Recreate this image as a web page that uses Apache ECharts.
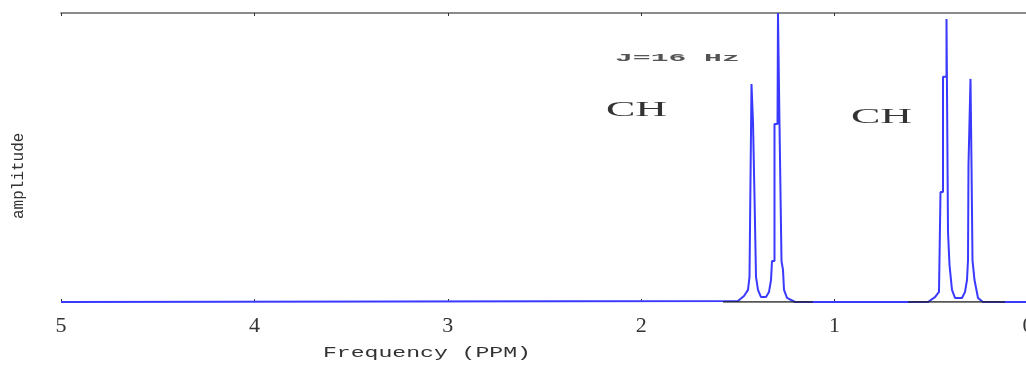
<!DOCTYPE html>
<html>
<head>
<meta charset="utf-8">
<script src="https://cdn.jsdelivr.net/npm/echarts@6/dist/echarts.min.js"></script>
<style>html,body{margin:0;padding:0;background:#fff}#c{width:1026px;height:366px}</style>
</head>
<body>
<div id="c"></div>
<script>
// Spectrum (ppm, amplitude)
const spectrumPpm = [5.0,
  1.4995, 1.4685, 1.4478, 1.4400, 1.4323, 1.4297, 1.4219, 1.4219, 1.4142, 1.4142, 1.4064, 1.4064, 1.3961, 1.3806, 1.3547, 1.3392, 1.3288, 1.3237, 1.3108, 1.3108, 1.2952, 1.2927, 1.2875, 1.2849, 1.2746, 1.2746, 1.2668, 1.2616, 1.2461, 1.2047,
  0.5171, 0.4809, 0.4602, 0.4524, 0.4524, 0.4395, 0.4395, 0.4214, 0.4214, 0.4136, 0.4136, 0.4059, 0.4059, 0.3981, 0.3930, 0.3775, 0.3413, 0.3257, 0.3154, 0.3102, 0.3077, 0.2999, 0.2973, 0.2921, 0.2921, 0.2870, 0.2870, 0.2792, 0.2766, 0.2689, 0.2585, 0.2327,
  0.0];
const spectrumAmp = [0,
  0.0035, 0.021, 0.042, 0.087, 0.087, 0.754, 0.754, 0.623, 0.623, 0.367, 0.367, 0.087, 0.042, 0.017, 0.017, 0.035, 0.076, 0.142, 0.142, 0.616, 0.616, 1.0, 1.0, 0.616, 0.616, 0.142, 0.111, 0.042, 0.014, 0,
  0, 0.017, 0.035, 0.035, 0.381, 0.381, 0.779, 0.779, 0.979, 0.979, 0.242, 0.242, 0.128, 0.128, 0.042, 0.014, 0.014, 0.035, 0.076, 0.145, 0.474, 0.474, 0.772, 0.772, 0.474, 0.474, 0.145, 0.145, 0.076, 0.076, 0.014, 0,
  0];
// Dark baseline segments under the multiplets
const baselinePpm = [1.577, 1.112, null, 0.620, 0.119];
const baselineAmp = [0, 0, null, 0, 0];
// Axis ticks
const xTicks = [5, 4, 3, 2, 1, 0];
// Annotations
const annotations = ['J=16 Hz', 'CH', 'CH'];
const xTitle = 'Frequency (PPM)';
const yTitle = 'amplitude';

const spectrum = spectrumPpm.map((p, i) => [p, spectrumAmp[i]]);
const baseline = baselinePpm.map((p, i) => p === null ? '-' : [p, baselineAmp[i]]);

const chart = echarts.init(document.getElementById('c'), null, {renderer: 'canvas'});
const tickStyle = {show: true, inside: true, length: 3, lineStyle: {color: '#333', width: 1}};
chart.setOption({
  animation: false,
  backgroundColor: '#fff',
  grid: {left: 61, right: -2, top: 13, bottom: 64, show: false, containLabel: false, outerBoundsMode: 'none'},
  xAxis: [{
    type: 'value', min: 0, max: 5, interval: 1, inverse: true, position: 'bottom',
    axisLine: {show: false}, splitLine: {show: false}, axisTick: tickStyle,
    axisLabel: {margin: 13, fontFamily: 'Liberation Serif', fontSize: 22, color: '#333',
      formatter: v => xTicks.indexOf(v) >= 0 ? String(v) : ''}
  }, {
    type: 'value', min: 0, max: 5, interval: 1, inverse: true, position: 'top',
    axisLine: {show: true, lineStyle: {color: '#666', width: 1.6}}, splitLine: {show: false},
    axisTick: tickStyle, axisLabel: {show: false}
  }],
  yAxis: {type: 'value', min: 0, max: 1, axisLine: {show: true, lineStyle: {color: '#555', width: 2}},
    axisTick: {show: false}, axisLabel: {show: false}, splitLine: {show: false}},
  series: [{
    type: 'line', data: spectrum, showSymbol: false, clip: true, z: 2,
    lineStyle: {color: '#3a3aff', width: 2}
  }, {
    type: 'line', data: baseline, showSymbol: false, clip: true, z: 3, connectNulls: false,
    lineStyle: {color: '#222', width: 1.4}
  }],
  graphic: [
    {type: 'text', x: 615, y: 53, scaleX: 2.7, style: {text: annotations[0], fontFamily: 'Liberation Mono', fontWeight: 'bold', fontSize: 11, fill: '#555'}},
    {type: 'text', x: 606, y: 99, scaleX: 2.0, style: {text: annotations[1], fontFamily: 'Liberation Serif', fontSize: 22, fill: '#333'}},
    {type: 'text', x: 851, y: 106, scaleX: 2.0, style: {text: annotations[2], fontFamily: 'Liberation Serif', fontSize: 22, fill: '#333'}},
    {type: 'text', x: 323, y: 346, scaleX: 1.65, style: {text: xTitle, fontFamily: 'Liberation Mono', fontSize: 14, fill: '#333'}},
    {type: 'text', x: 11, y: 219, rotation: Math.PI / 2, style: {text: yTitle, fontFamily: 'Liberation Mono', fontSize: 16, fill: '#333'}}
  ]
});
</script>
</body>
</html>
